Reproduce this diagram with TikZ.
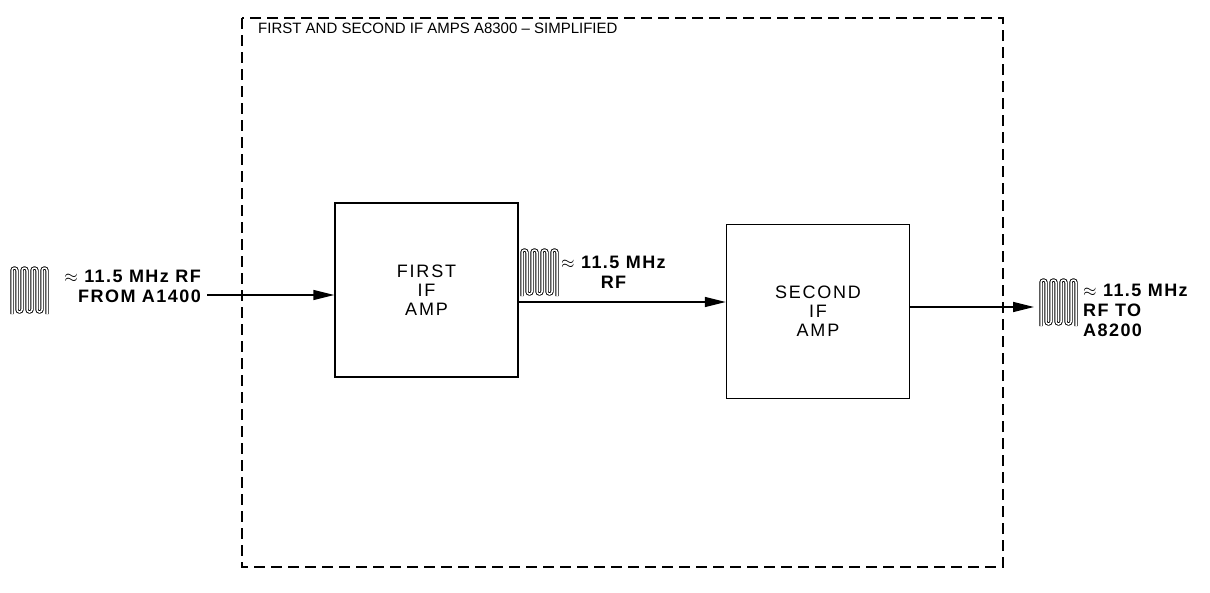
\documentclass[tikz,border=0pt]{standalone}
\usepackage{fontspec}
\setmainfont{Liberation Sans}
\newfontfamily\boxfont[LetterSpace=10]{Liberation Sans}
\newfontfamily\sigfont[LetterSpace=8]{Liberation Sans}
\usetikzlibrary{arrows.meta,positioning}

\begin{document}
\begin{tikzpicture}[
    x=1pt, y=-1pt,
    amp/.style={rectangle, draw, line width=1.4pt, minimum width=183pt, minimum height=174pt, align=center, font=\fontsize{18}{19}\boxfont},
    frame/.style={draw, line width=1.3pt, dash pattern=on 11pt off 6pt},
    sig/.style={line width=1.4pt, -{Triangle[length=21pt, width=10pt]}},
    lbl/.style={inner sep=0pt, font=\fontsize{18}{20}\sigfont\bfseries},
    rfwave/.pic={
        \draw[line width=0.9pt, double distance=1.5pt, rounded corners=2.4pt]
            (0,46) -- (0,0) -- (5,0) -- (5,44) -- (10,44) -- (10,0) -- (15,0) -- (15,44)
            -- (20,44) -- (20,0) -- (25,0) -- (25,44) -- (30,44) -- (30,0) -- (35,0) -- (35,46);
    }
]
\useasboundingbox (0,0) rectangle (1210,592);

% Enclosure
\draw[frame] (242,18) rectangle (1003,567);
\node[anchor=north west, inner sep=0pt, font=\fontsize{15}{20}\selectfont] (title) at (258,23)
    {FIRST AND SECOND IF AMPS A8300 -- SIMPLIFIED};

% Amplifiers
\node[amp] (first) at (426.5,290) {FIRST\\IF\\AMP};
\node[amp] (second) at (818,311.5) {SECOND\\IF\\AMP};

% Signals
\coordinate (src) at (207,295);
\coordinate (mid) at (518,302);
\coordinate (dst) at (1034,307);

\pic at (12,268) {rfwave};
\node[lbl, align=right, anchor=east] (srclbl) at (201,286) {$\approx$ 11.5 MHz RF\\FROM A1400};

\pic at (522,250) {rfwave};
\node[lbl, align=center, anchor=west] (midlbl) at (561,272) {$\approx$ 11.5 MHz\\RF};

\pic at (1041,280) {rfwave};
\node[lbl, align=left, anchor=west] (dstlbl) at (1083,310) {$\approx$ 11.5 MHz\\RF TO\\A8200};

% Arrows
\draw[sig] (src) -- (src -| first.west);
\draw[sig] (mid) -- (mid -| second.west);
\draw[sig] (dst -| second.east) -- (dst);
\end{tikzpicture}
\end{document}
